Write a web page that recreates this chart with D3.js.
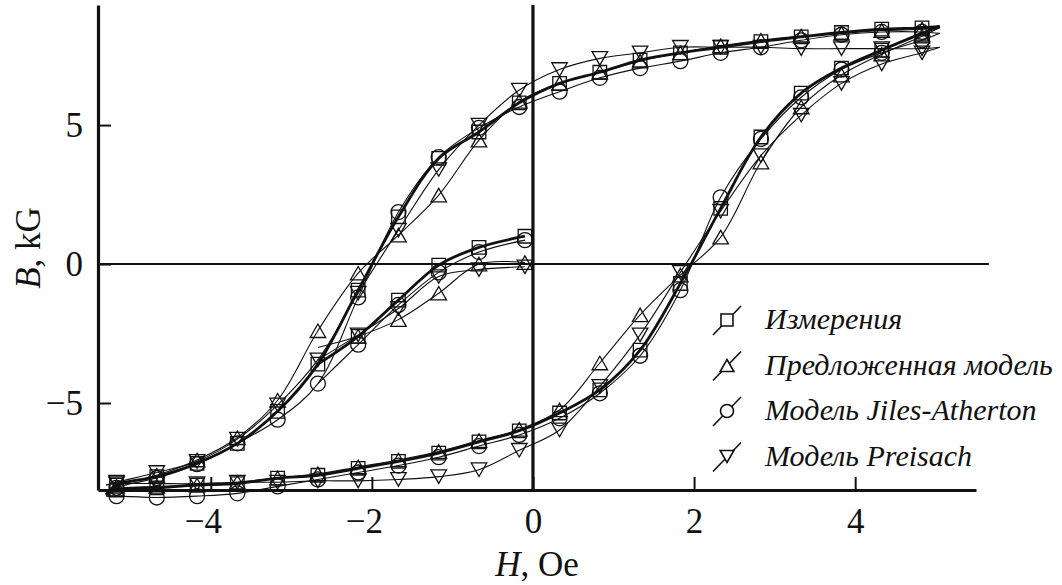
<!DOCTYPE html>
<html>
<head>
<meta charset="utf-8">
<script src="https://cdn.jsdelivr.net/npm/d3@7"></script>
<style>
  body { margin: 0; background: #fff; }
  svg { display: block; }
  svg text { font-family: "Liberation Serif", "Times New Roman", serif; fill: #111; }
</style>
</head>
<body>
<svg id="chart" width="1062" height="585"></svg>
<script>
// field values (Oe) where the points were taken
const H_DESC = [5.05, 4.83, 4.33, 3.83, 3.33, 2.83, 2.33, 1.83, 1.33, 0.83, 0.33, -0.17,
                -0.67, -1.17, -1.67, -2.17, -2.67, -3.17, -3.67, -4.17, -4.67, -5.17, -5.3];
const H_ASC = H_DESC.slice().reverse();
const H_MINOR = [-2.67, -2.17, -1.67, -1.17, -0.67, -0.1];

// B (kG), descending branch
const measDesc  = [8.55, 8.5, 8.45, 8.33, 8.17, 8.0, 7.8, 7.6, 7.34, 6.9, 6.5, 5.8, 4.75, 3.8, 1.7, -0.94, -3.6, -5.3, -6.45, -7.17, -7.65, -7.95, -8.3];
const propDesc  = [8.5, 8.45, 8.4, 8.3, 8.2, 8.05, 7.85, 7.6, 7.3, 6.9, 6.5, 5.85, 4.46, 2.48, 1.04, -0.33, -2.4, -4.9, -6.25, -7.05, -7.6, -8.0, -8.3];
const jaDesc    = [8.3, 8.35, 8.35, 8.25, 8.05, 7.8, 7.6, 7.3, 7.05, 6.7, 6.2, 5.65, 4.9, 3.85, 1.87, -1.2, -4.3, -5.6, -6.45, -7.2, -7.7, -8.05, -8.35];
const preiDesc  = [7.8, 7.75, 7.75, 7.75, 7.75, 7.8, 7.8, 7.8, 7.6, 7.4, 7.0, 6.26, 5.0, 3.4, 1.22, -1.05, -3.45, -5.07, -6.3, -7.1, -7.5, -7.85, -7.95];

// B (kG), ascending branch
const measAsc   = [-8.3, -8.13, -8.05, -7.95, -7.9, -7.7, -7.6, -7.35, -7.1, -6.8, -6.4, -6.0, -5.36, -4.53, -3.1, -0.7, 2.0, 4.57, 6.15, 7.05, 7.7, 8.3, 8.55];
const propAsc   = [-8.3, -8.1, -8.0, -7.95, -7.85, -7.7, -7.55, -7.3, -7.05, -6.75, -6.35, -5.95, -5.25, -3.56, -1.83, -0.4, 0.97, 3.67, 5.65, 6.8, 7.55, 8.2, 8.5];
const jaAsc     = [-8.35, -8.35, -8.4, -8.35, -8.25, -8.0, -7.75, -7.5, -7.25, -6.95, -6.55, -6.15, -5.55, -4.65, -3.3, -0.94, 2.4, 4.5, 6.0, 7.0, 7.6, 8.05, 8.3];
const preiAsc   = [-7.95, -7.9, -7.9, -7.9, -7.85, -7.85, -7.8, -7.8, -7.75, -7.65, -7.4, -6.7, -5.97, -4.4, -2.55, -0.3, 1.9, 3.9, 5.36, 6.5, 7.2, 7.6, 7.8];

// B (kG), minor reversal branch
const measMinor = [-3.6, -2.6, -1.3, -0.04, 0.6, 1.0];
const propMinor = [-3.0, -2.6, -2.0, -1.05, 0.0, 0.05];
const jaMinor   = [-4.3, -2.9, -1.47, -0.3, 0.43, 0.86];
const preiMinor = [-3.45, -2.55, -1.6, -0.45, -0.2, -0.1];

const seriesNames = ["Измерения", "Предложенная модель", "Модель Jiles-Atherton", "Модель Preisach"];
const xTicks = [-4, -2, 0, 2, 4];
const yTicks = [-5, 0, 5];

const series = [
  { name: seriesNames[0], sym: "square", w: 2.8, desc: measDesc, asc: measAsc, minor: measMinor },
  { name: seriesNames[1], sym: "up",     w: 1.1, desc: propDesc, asc: propAsc, minor: propMinor },
  { name: seriesNames[2], sym: "circle", w: 1.1, desc: jaDesc,   asc: jaAsc,   minor: jaMinor },
  { name: seriesNames[3], sym: "down",   w: 1.1, desc: preiDesc, asc: preiAsc, minor: preiMinor }
];

const svg = d3.select("#chart");
const x = d3.scaleLinear().domain([-5.4, 5.5]).range([98, 976]);
const y = d3.scaleLinear().domain([-8.13, 9.32]).range([490, 5]);

function symbolPath(type, s) {
  // s = nominal size in px
  if (type === "square") {
    const h = s / 2;
    return `M${-h},${-h}H${h}V${h}H${-h}Z`;
  }
  if (type === "circle") {
    const r = s / 2;
    return `M${r},0A${r},${r} 0 1,1 ${-r},0A${r},${r} 0 1,1 ${r},0Z`;
  }
  const w = s * 1.15 / 2, h = s / 2;
  if (type === "up") return `M0,${-h}L${w},${h}L${-w},${h}Z`;
  return `M0,${h}L${w},${-h}L${-w},${-h}Z`;
}

const line = d3.line()
  .x(d => x(d[0]))
  .y(d => y(d[1]))
  .curve(d3.curveCatmullRom.alpha(0.5));

const fmt = d => d < 0 ? "\u2212" + Math.abs(d) : d;

// axes
const xAxis = svg.append("g")
  .attr("transform", `translate(0,${y.range()[0]})`)
  .call(d3.axisBottom(x).tickValues(xTicks).tickSizeInner(-13).tickSizeOuter(0).tickPadding(18).tickFormat(fmt));
xAxis.attr("font-family", null);
xAxis.select(".domain").attr("stroke-width", 3.2).attr("stroke", "#111");
xAxis.selectAll(".tick line").attr("stroke-width", 2).attr("stroke", "#111");
xAxis.selectAll(".tick text")
  .attr("font-size", 35).attr("fill", "#111")
  .attr("dx", d => d < 0 ? -8 : 0);

const yAxis = svg.append("g")
  .attr("transform", `translate(${x.range()[0]},0)`)
  .call(d3.axisLeft(y).tickValues(yTicks).tickSizeInner(-13).tickSizeOuter(0).tickPadding(15).tickFormat(fmt));
yAxis.attr("font-family", null);
yAxis.select(".domain").attr("stroke-width", 3.2).attr("stroke", "#111");
yAxis.selectAll(".tick line").attr("stroke-width", 2).attr("stroke", "#111");
yAxis.selectAll(".tick text")
  .attr("font-size", 35).attr("fill", "#111");

// zero lines
svg.append("line")
  .attr("x1", x(-5.4)).attr("x2", x(5.66))
  .attr("y1", y(0)).attr("y2", y(0))
  .attr("stroke", "#111").attr("stroke-width", 2);
svg.append("line")
  .attr("x1", x(0)).attr("x2", x(0))
  .attr("y1", y(9.32)).attr("y2", y(-8.13))
  .attr("stroke", "#111").attr("stroke-width", 3.2);

// curves: thin models first, measurement on top
const plot = svg.append("g");
const order = [1, 2, 3, 0];
order.forEach(i => {
  const s = series[i];
  const branches = [
    d3.zip(H_DESC, s.desc),
    d3.zip(H_ASC, s.asc),
    d3.zip(H_MINOR, s.minor)
  ];
  branches.forEach(b => {
    plot.append("path")
      .datum(b)
      .attr("d", line)
      .attr("fill", "none")
      .attr("stroke", "#111")
      .attr("stroke-width", s.w);
  });
});

order.forEach(i => {
  const s = series[i];
  const pts = d3.zip(H_DESC, s.desc).slice(1, -1)
    .concat(d3.zip(H_ASC, s.asc).slice(1, -1))
    .concat(d3.zip(H_MINOR, s.minor).slice(1));
  plot.append("g")
    .selectAll("path")
    .data(pts)
    .join("path")
    .attr("transform", d => `translate(${x(d[0])},${y(d[1])})`)
    .attr("d", symbolPath(s.sym, s.sym === "circle" ? 15 : 13.5))
    .attr("fill", "none")
    .attr("stroke", "#111")
    .attr("stroke-width", 1.3);
});

// axis titles
const yTitle = svg.append("text")
  .attr("transform", "translate(40,248) rotate(-90)")
  .attr("text-anchor", "middle")
  .attr("font-size", 35);
yTitle.append("tspan").attr("font-style", "italic").text("B");
yTitle.append("tspan").text(", kG");

const xTitle = svg.append("text")
  .attr("x", 537).attr("y", 576)
  .attr("text-anchor", "middle")
  .attr("font-size", 35);
xTitle.append("tspan").attr("font-style", "italic").text("H");
xTitle.append("tspan").text(", Oe");

// legend
const legend = svg.append("g").attr("transform", "translate(727,320)");
series.forEach((s, i) => {
  const g = legend.append("g").attr("transform", `translate(0,${i * 45.5})`);
  g.append("line")
    .attr("x1", -14).attr("y1", 15).attr("x2", 14).attr("y2", -14)
    .attr("stroke", "#111").attr("stroke-width", 1.6);
  g.append("path")
    .attr("d", symbolPath(s.sym, s.sym === "circle" ? 13 : 12))
    .attr("fill", "#fff")
    .attr("stroke", "#111")
    .attr("stroke-width", 1.6);
  g.append("text")
    .attr("x", 38).attr("y", 9)
    .attr("font-size", 30)
    .attr("font-style", "italic")
    .text(s.name);
});
</script>
</body>
</html>
